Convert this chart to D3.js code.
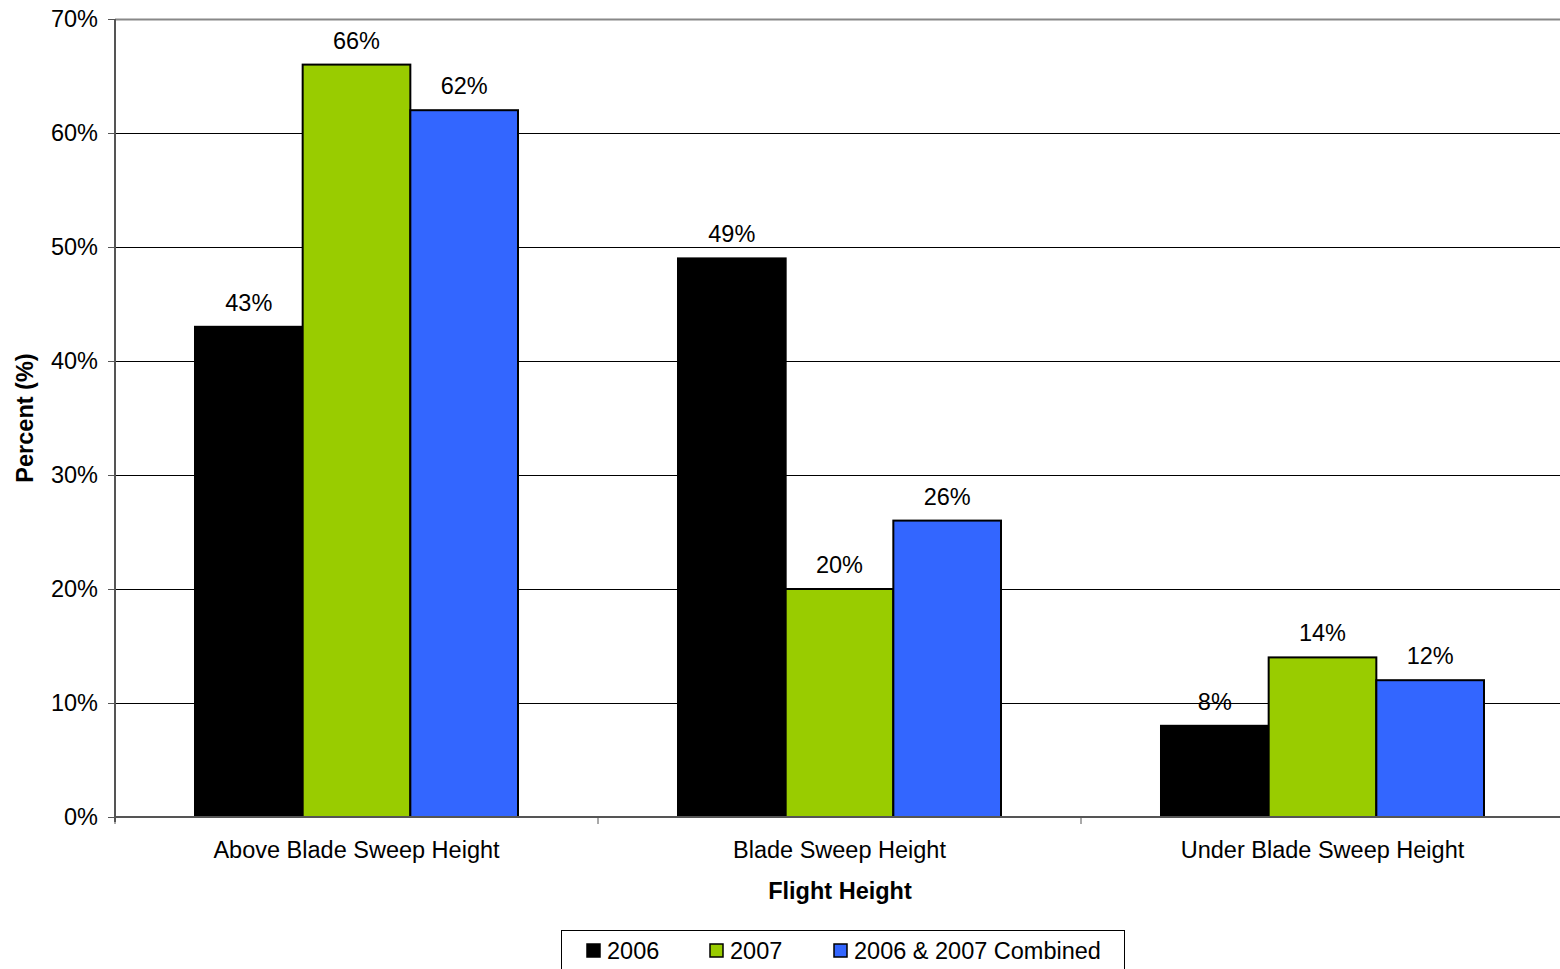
<!DOCTYPE html>
<html>
<head>
<meta charset="utf-8">
<script src="https://cdn.jsdelivr.net/npm/d3@7"></script>
<style>
  html, body { margin: 0; padding: 0; background: #fff; }
  svg { display: block; font-family: "Liberation Sans", Arial, sans-serif; }
</style>
</head>
<body>
<svg id="chart" width="1560" height="969"></svg>
<script>
// Flight height distribution by year
const categories = ["Above Blade Sweep Height", "Blade Sweep Height", "Under Blade Sweep Height"];
const seriesNames = ["2006", "2007", "2006 & 2007 Combined"];
const values2006 = [43, 49, 8];
const values2007 = [66, 20, 14];
const valuesCombined = [62, 26, 12];
const yTicks = [0, 10, 20, 30, 40, 50, 60, 70];
const colors = ["#000000", "#99CC00", "#3366FF"];

const series = [values2006, values2007, valuesCombined];
const FS = 23.5;

const svg = d3.select("#chart");
const margin = { left: 115, top: 19, right: 1564, bottom: 817 };

const x = d3.scaleBand().domain(categories).range([margin.left, margin.right]).paddingInner(0).paddingOuter(0);
const xs = d3.scaleBand().domain(seriesNames).range([0, x.bandwidth()]).paddingOuter(0.743).paddingInner(0);
const y = d3.scaleLinear().domain([0, 70]).range([margin.bottom, margin.top]);

// horizontal gridlines
svg.append("g").selectAll("line").data(yTicks.filter(d => d > 0)).join("line")
  .attr("x1", margin.left).attr("x2", 1560)
  .attr("y1", d => y(d) + 0.5).attr("y2", d => y(d) + 0.5)
  .attr("stroke", d => d === 70 ? "#888" : "#000")
  .attr("stroke-width", d => d === 70 ? 2 : 1);

// bars
const groups = svg.append("g").selectAll("g").data(categories).join("g")
  .attr("transform", d => `translate(${x(d)},0)`);
groups.selectAll("rect").data((c, i) => seriesNames.map((s, j) => ({ s, j, v: series[j][i] }))).join("rect")
  .attr("x", d => xs(d.s))
  .attr("width", xs.bandwidth())
  .attr("y", d => y(d.v))
  .attr("height", d => y(0) - y(d.v))
  .attr("fill", d => colors[d.j])
  .attr("stroke", "#000")
  .attr("stroke-width", 2);

// value labels
groups.selectAll("text").data((c, i) => seriesNames.map((s, j) => ({ s, j, v: series[j][i] }))).join("text")
  .attr("x", d => xs(d.s) + xs.bandwidth() / 2)
  .attr("y", d => y(d.v) - 16)
  .attr("text-anchor", "middle")
  .attr("font-size", FS)
  .attr("fill", "#000")
  .text(d => d.v + "%");

// y axis
const yAxis = d3.axisLeft(y).tickValues(yTicks).tickFormat(d => d + "%").tickSize(7).tickPadding(10);
const gy = svg.append("g").attr("transform", `translate(${margin.left},0)`).call(yAxis);
gy.select(".domain").attr("stroke", "#555").attr("stroke-width", 2).attr("d", `M0,${margin.top}V${margin.bottom + 5}`);
gy.selectAll(".tick line").attr("stroke", "#555");
gy.selectAll(".tick text").attr("font-size", FS).attr("fill", "#000").attr("font-family", "Liberation Sans, Arial, sans-serif");

// x axis
const gx = svg.append("g").attr("transform", `translate(0,${margin.bottom})`);
gx.append("line").attr("x1", margin.left).attr("x2", 1560).attr("y1", 0).attr("y2", 0)
  .attr("stroke", "#555").attr("stroke-width", 2);
const boundaries = [0, 1, 2, 3].map(i => margin.left + i * x.bandwidth());
gx.selectAll("line.tk").data(boundaries).join("line").attr("class", "tk")
  .attr("x1", d => d).attr("x2", d => d).attr("y1", 0).attr("y2", 7)
  .attr("stroke", "#555").attr("stroke-width", 1);
gx.selectAll("text").data(categories).join("text")
  .attr("x", d => x(d) + x.bandwidth() / 2)
  .attr("y", 41)
  .attr("text-anchor", "middle")
  .attr("font-size", FS)
  .attr("fill", "#000")
  .text(d => d);

// axis titles
svg.append("text")
  .attr("x", 840).attr("y", 899)
  .attr("text-anchor", "middle").attr("font-size", FS).attr("font-weight", "bold")
  .text("Flight Height");
svg.append("text")
  .attr("transform", `translate(33,${(margin.top + margin.bottom) / 2}) rotate(-90)`)
  .attr("text-anchor", "middle").attr("font-size", FS).attr("font-weight", "bold")
  .text("Percent (%)");

// legend
const legend = svg.append("g");
legend.append("rect").attr("x", 561.5).attr("y", 930.5).attr("width", 563).attr("height", 50)
  .attr("fill", "#fff").attr("stroke", "#000").attr("stroke-width", 1);
const legendX = [587, 710, 834];
const items = legend.selectAll("g").data(seriesNames).join("g")
  .attr("transform", (d, i) => `translate(${legendX[i]},944)`);
items.append("rect").attr("width", 13).attr("height", 13)
  .attr("fill", (d, i) => colors[i]).attr("stroke", "#000").attr("stroke-width", 1.5);
items.append("text").attr("x", 20).attr("y", 15).attr("font-size", FS).attr("fill", "#000").text(d => d);
</script>
</body>
</html>
